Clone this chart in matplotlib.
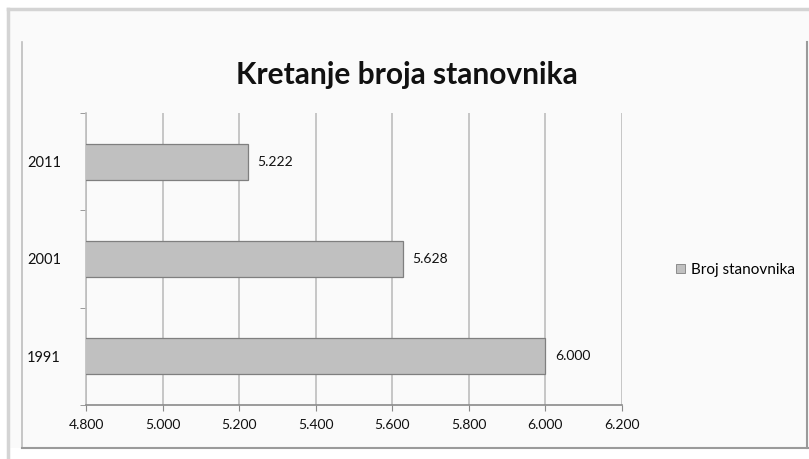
import numpy as np
import matplotlib.pyplot as plt
import matplotlib as mpl
from matplotlib.lines import Line2D
from matplotlib.patches import Patch

mpl.rcParams['font.family'] = ['Lato', 'DejaVu Sans']

# ---------- data ----------
years = ['1991', '2001', '2011']
population = [6000, 5628, 5222]
xticks = [4800, 5000, 5200, 5400, 5600, 5800, 6000, 6200]
series_name = 'Broj stanovnika'
title = 'Kretanje broja stanovnika'


def fmt(v):
    # thousands with a dot
    return f"{v:,.0f}".replace(',', '.')


W, H = 809, 459
fig = plt.figure(figsize=(W / 100, H / 100), dpi=100, facecolor='white')

# background + frames (pixel coords -> figure fraction)
def fx(x): return x / W
def fy(y): return 1 - y / H

bg = plt.Rectangle((fx(8), fy(448)), 1 - fx(8), fy(9) - fy(448), transform=fig.transFigure,
                   facecolor='#fafafa', edgecolor='none', zorder=-10)
fig.patches.append(bg)
fig.add_artist(Line2D([fx(8), 1], [fy(9), fy(9)], color='#d4d4d4', lw=2.5))
fig.add_artist(Line2D([fx(8), fx(8)], [fy(9), 0], color='#d4d4d4', lw=2.5))
fig.add_artist(Line2D([fx(22), fx(22)], [fy(42), fy(448)], color='#bdbdbd', lw=1.2))
fig.add_artist(Line2D([fx(22), 1], [fy(448), fy(448)], color='#9a9a9a', lw=1.5))
fig.add_artist(Line2D([fx(807), fx(807)], [fy(42), fy(448)], color='#9a9a9a', lw=1.5))

# plot area
ax = fig.add_axes([fx(86), fy(405), fx(622) - fx(86), fy(113) - fy(405)])
ax.set_facecolor('none')
ax.set_zorder(5)

y = np.arange(len(years))
ax.barh(y, population, height=0.37, left=0, color='#c0c0c0', edgecolor='#7f7f7f',
        linewidth=0.9, zorder=3)
ax.set_xlim(4800, 6200)
ax.set_ylim(-0.5, 2.5)

for yi, v in zip(y, population):
    ax.text(v + 25, yi, fmt(v), va='center', ha='left', fontsize=10, color='#111111')

ax.set_xticks(xticks)
ax.set_xticklabels([fmt(t) for t in xticks], fontsize=10, color='#111111')
ax.set_yticks(y)
ax.set_yticklabels(years, fontsize=10.5, color='#111111')
ax.tick_params(axis='y', length=0, pad=18)
ax.tick_params(axis='x', length=4, color='#8a8a8a', direction='out', pad=6)
# category boundary ticks on the y axis
ax.set_yticks([-0.5, 0.5, 1.5, 2.5], minor=True)
ax.tick_params(axis='y', which='minor', length=4, color='#8a8a8a', direction='out')

ax.grid(axis='x', color='#bdbdbd', linewidth=1.2, zorder=0)
ax.set_axisbelow(True)
for s in ['top', 'right']:
    ax.spines[s].set_visible(False)
ax.spines['left'].set_color('#bdbdbd')
ax.spines['left'].set_linewidth(1.2)
ax.spines['bottom'].set_color('#8a8a8a')
ax.spines['bottom'].set_linewidth(1.2)

fig.text(fx(407), fy(75), title, ha='center', va='center', fontsize=21.5, fontweight='bold',
         color='#111111')

handle = Patch(facecolor='#c0c0c0', edgecolor='#7f7f7f', linewidth=0.6)
fig.legend([handle], [series_name], loc='center left', bbox_to_anchor=(fx(662), fy(270)),
           frameon=False, fontsize=11, handlelength=0.6, handleheight=0.6, handletextpad=0.4)

fig.savefig('out.png', dpi=100, facecolor='white')
